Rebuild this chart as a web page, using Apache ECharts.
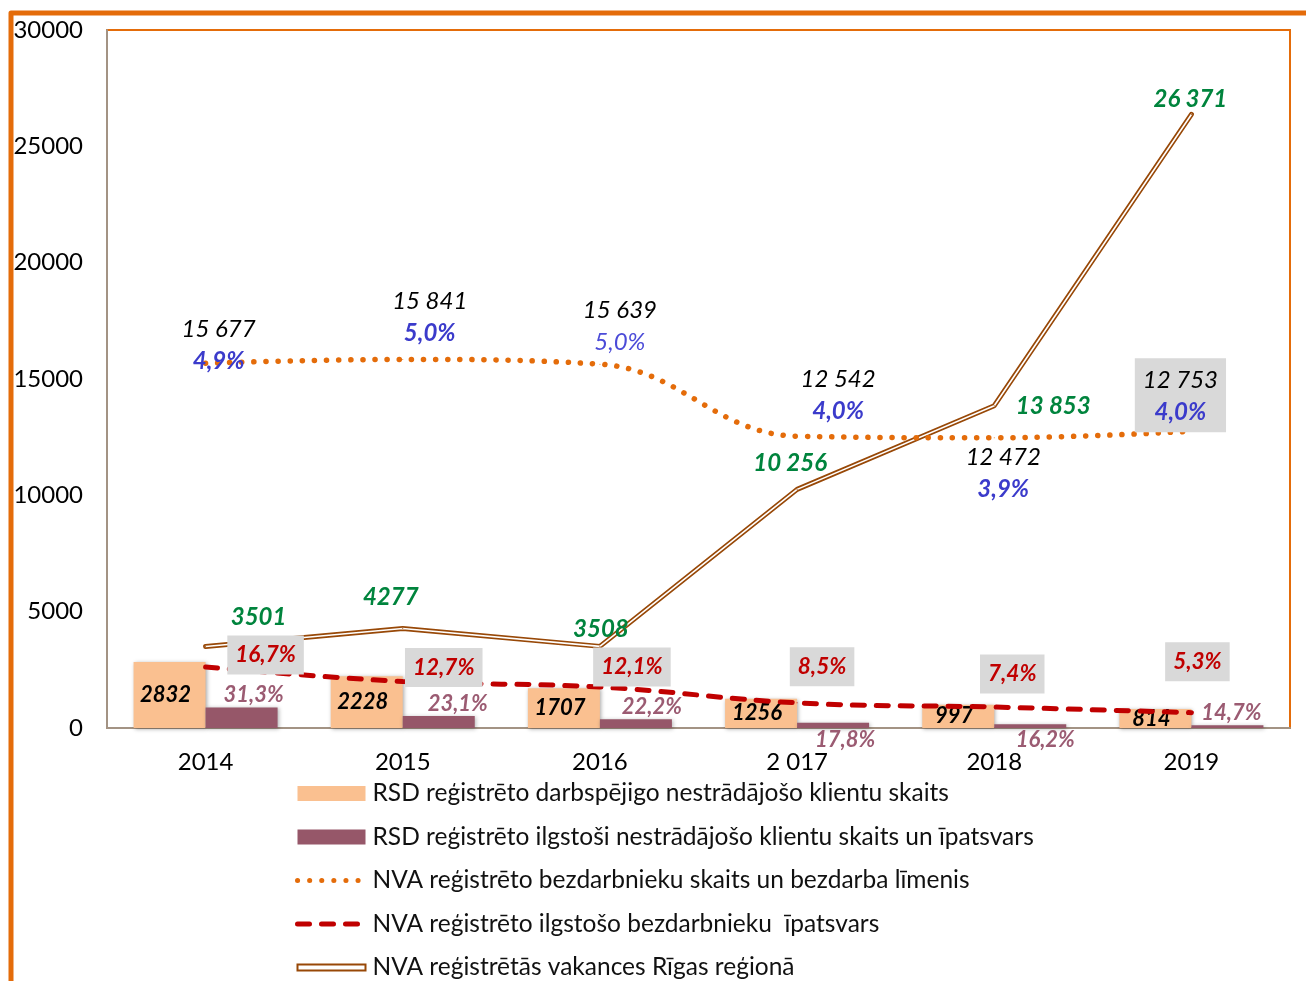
<!DOCTYPE html>
<html>
<head>
<meta charset="utf-8">
<script src="https://cdn.jsdelivr.net/npm/echarts@6/dist/echarts.min.js"></script>
<style>
  html, body { margin: 0; padding: 0; background: #fff; }
  #chart { width: 1306px; height: 981px; }
</style>
</head>
<body>
<div id="chart"></div>
<script>
// dati
var years = ['2014', '2015', '2016', '2 017', '2018', '2019']
var rsdActive = [2832, 2228, 1707, 1256, 997, 814]
var rsdLongTerm = [886, 515, 379, 224, 162, 120]
var rsdLongTermPct = [31.3, 23.1, 22.2, 17.8, 16.2, 14.7]
var nvaUnemployed = [15677, 15841, 15639, 12542, 12472, 12753]
var nvaRate = [4.9, 5.0, 5.0, 4.0, 3.9, 4.0]
var nvaLongTerm = [2620, 2000, 1760, 1080, 900, 660]
var nvaLongTermPct = [16.7, 12.7, 12.1, 8.5, 7.4, 5.3]
var vacancies = [3501, 4277, 3508, 10256, 13853, 26371]
var names = [
  'RSD reģistrēto darbspējigo nestrādājošo klientu skaits',
  'RSD reģistrēto ilgstoši nestrādājošo klientu skaits un īpatsvars',
  'NVA reģistrēto bezdarbnieku skaits un bezdarba līmenis',
  'NVA reģistrēto ilgstošo bezdarbnieku  īpatsvars',
  'NVA reģistrētās vakances Rīgas reģionā'
]

// label placement (layout only)
var darkPos = ['top', 'top', 'top', 'bottom', 'bottom', 'top']
var darkOff = [[12, 0], [19, 0], [16, 0], [12, 0], [15, 0], [4, 0]]
var nvaOff = [[13, -18], [27, -42], [20, -38], [41, -41], [9, 35], [-11, -36]]
var redOff = [[60, -12], [41, -14], [32, -20], [25, -36], [18, -33], [6, -51]]
var vakOff = [[53, -29], [-12, -31], [1, -17], [-7, -26], [59, 1], [-1, -15]]

var FONT = 'Lato'
var ORANGE = '#E46C0A'
var AXIS = '#A39384'
var DOTS = [0.1, 12]
var DASH = [12, 12]

function fmt(v) {
  return v >= 10000 ? String(v).replace(/\B(?=(\d{3})+(?!\d))/g, ' ') : String(v)
}
function pct(v) {
  return v.toFixed(1).replace('.', ',') + '%'
}

var myChart = echarts.init(document.getElementById('chart'))

var option = {
  backgroundColor: '#fff',
  textStyle: { fontFamily: FONT },
  animation: false,
  graphic: [
    {
      type: 'polyline',
      shape: { points: [[11, 981], [11, 13], [1306, 13]] },
      style: { stroke: ORANGE, lineWidth: 5, fill: null, lineJoin: 'round' }
    }
  ],
  grid: {
    left: 107, right: 16, top: 30, bottom: 253,
    show: true, borderColor: ORANGE, borderWidth: 2
  },
  legend: {
    orient: 'vertical',
    left: 295,
    top: 781,
    height: 230,
    padding: 0,
    itemWidth: 68,
    itemHeight: 15,
    itemGap: 18.5,
    textStyle: { fontSize: 24.5, color: '#111', fontFamily: FONT, padding: [0, 0, 0, 2] },
    data: [
      { name: names[0], icon: 'rect' },
      { name: names[1], icon: 'rect' },
      { name: names[2], itemStyle: { opacity: 0 }, lineStyle: { width: 5, type: DOTS, cap: 'round', color: ORANGE } },
      { name: names[3], itemStyle: { opacity: 0 }, lineStyle: { width: 5, type: DASH, cap: 'round', color: '#C00000' } },
      {
        name: names[4],
        icon: 'path://M0,0 L70,0 L70,6 L0,6 Z',
        itemStyle: { color: '#fff', borderColor: '#984807', borderWidth: 2 }
      }
    ]
  },
  xAxis: {
    type: 'category',
    data: years,
    axisTick: { show: false },
    axisLine: { lineStyle: { color: AXIS, width: 2 } },
    axisLabel: { fontSize: 24, color: '#000', margin: 22, fontFamily: FONT }
  },
  yAxis: {
    type: 'value',
    min: 0,
    max: 30000,
    interval: 5000,
    splitLine: { show: false },
    axisTick: { show: false },
    axisLine: { show: true, lineStyle: { color: AXIS, width: 2 } },
    axisLabel: {
      fontSize: 24, color: '#000', margin: 24, fontFamily: FONT,
      formatter: function (v) { return String(v) }
    }
  },
  series: [
    {
      name: names[0],
      type: 'bar',
      data: rsdActive,
      barWidth: 72,
      barGap: '0%',
      itemStyle: {
        color: '#FAC090',
        shadowBlur: 4, shadowColor: 'rgba(0,0,0,0.35)', shadowOffsetX: 1, shadowOffsetY: 1
      },
      label: {
        show: true, position: 'inside', offset: [-4, 0],
        color: '#000', fontSize: 22, fontStyle: 'italic', fontWeight: 'bold'
      }
    },
    {
      name: names[1],
      type: 'bar',
      data: rsdLongTerm.map(function (v, i) {
        return { value: v, label: { position: darkPos[i], offset: darkOff[i] } }
      }),
      barWidth: 72,
      barGap: '0%',
      itemStyle: {
        color: '#965769',
        shadowBlur: 4, shadowColor: 'rgba(0,0,0,0.3)', shadowOffsetX: 1, shadowOffsetY: 1
      },
      label: {
        show: true, distance: 1,
        color: '#9B5B72', fontSize: 22, fontStyle: 'italic', fontWeight: 'bold',
        formatter: function (p) { return pct(rsdLongTermPct[p.dataIndex]) }
      }
    },
    {
      name: names[4],
      type: 'line',
      data: vacancies.map(function (v, i) {
        return { value: v, label: { offset: vakOff[i] } }
      }),
      symbol: 'circle',
      symbolSize: 1,
      itemStyle: { color: '#984807' },
      lineStyle: { color: '#984807', width: 5, cap: 'round', join: 'round' },
      label: {
        show: true, position: 'inside',
        color: '#00843D', fontSize: 24, fontStyle: 'italic', fontWeight: 'bold',
        formatter: function (p) { return fmt(p.value) }
      },
      z: 3
    },
    {
      name: 'vakInner',
      type: 'line',
      data: vacancies,
      symbol: 'none',
      silent: true,
      lineStyle: { color: '#fff', width: 1.6, cap: 'round', join: 'round' },
      z: 3
    },
    {
      name: names[3],
      type: 'line',
      smooth: 0.4,
      data: nvaLongTerm.map(function (v, i) {
        return { value: v, label: { offset: redOff[i] } }
      }),
      symbol: 'circle',
      symbolSize: 1,
      itemStyle: { color: '#C00000' },
      lineStyle: { color: '#C00000', width: 5, type: DASH, cap: 'round' },
      label: {
        show: true, position: 'inside',
        backgroundColor: '#D9D9D9', padding: [8, 8],
        color: '#C00000', fontSize: 22.5, fontStyle: 'italic', fontWeight: 'bold',
        formatter: function (p) { return pct(nvaLongTermPct[p.dataIndex]) }
      },
      z: 4
    },
    {
      name: names[2],
      type: 'line',
      smooth: 0.4,
      data: nvaUnemployed.map(function (v, i) {
        var lab = { offset: nvaOff[i] }
        if (i === 5) {
          lab.backgroundColor = '#D9D9D9'
          lab.padding = [6, 8, 4, 8]
        }
        return { value: v, label: lab }
      }),
      symbol: 'circle',
      symbolSize: 1,
      itemStyle: { color: ORANGE },
      lineStyle: { color: ORANGE, width: 5.5, type: DOTS, cap: 'round' },
      label: {
        show: true, position: 'inside',
        formatter: function (p) {
          var key = p.dataIndex === 2 ? 'q' : 'p'
          return '{n|' + fmt(p.value) + '}\n{' + key + '|' + pct(nvaRate[p.dataIndex]) + '}'
        },
        rich: {
          n: { fontSize: 24, fontStyle: 'italic', color: '#000', lineHeight: 32, align: 'center' },
          p: { fontSize: 24, fontStyle: 'italic', fontWeight: 'bold', color: '#3B3BCB', lineHeight: 32, align: 'center' },
          q: { fontSize: 24, fontStyle: 'italic', color: '#4B4BD8', lineHeight: 32, align: 'center' }
        }
      },
      z: 5
    }
  ]
}
myChart.setOption(option)
</script>
</body>
</html>
